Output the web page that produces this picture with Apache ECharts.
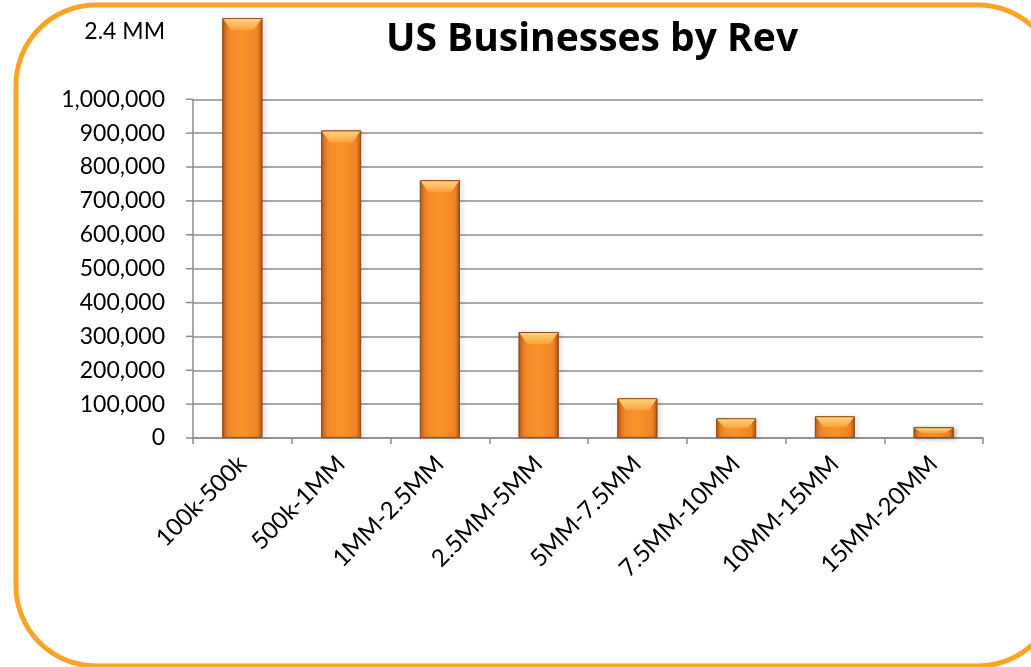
<!DOCTYPE html>
<html>
<head>
<meta charset="utf-8">
<script src="https://cdn.jsdelivr.net/npm/echarts@6/dist/echarts.min.js"></script>
<style>
  html, body { margin: 0; padding: 0; background: #fff; }
  #chart { width: 1031px; height: 667px; }
</style>
</head>
<body>
<div id="chart"></div>
<script>
// revenue bands and number of US businesses in each
var categories = ['100k-500k', '500k-1MM', '1MM-2.5MM', '2.5MM-5MM', '5MM-7.5MM', '7.5MM-10MM', '10MM-15MM', '15MM-20MM'];
var businesses = [2400000, 908000, 761000, 313000, 117000, 58000, 64000, 32000];
var tickValues = [0, 100000, 200000, 300000, 400000, 500000, 600000, 700000, 800000, 900000, 1000000];

var axisTop = 1000000;   // last labelled gridline
var yMax = 1240000;      // room above for the first (off-scale) bar
var gridLeft = 193;
var font = 'Lato, "Open Sans", sans-serif';
var grey = '#8c8c8c';

// the first bar is cut at the top of the plot, like in the original
var shown = businesses.map(function (v) { return Math.min(v, yMax); });

function mmLabel(v) {
    return (v / 1000000).toFixed(1) + ' MM';
}

var splitColors = [];
for (var i = 0; i < 14; i++) splitColors.push(i < tickValues.length ? grey : 'rgba(0,0,0,0)');

var border = {
    type: 'rect', z: 100, silent: true,
    shape: { x: 16, y: 5, width: 1042, height: 661, r: 80 },
    style: { fill: 'none', stroke: '#f9a329', lineWidth: 5 }
};
var title = {
    type: 'text', z: 100,
    style: {
        x: 592, y: 40, text: 'US Businesses by Rev', fill: '#000',
        font: 'bold 39px "Open Sans", sans-serif', textAlign: 'center', textVerticalAlign: 'middle'
    }
};

var bevel = {
    type: 'pictorialBar',
    data: shown,
    symbol: 'path://M0,0 L40,0 L32,10 L8,10 Z',
    symbolSize: [38, 11],
    symbolPosition: 'end',
    symbolOffset: [0, 1],
    z: 3,
    itemStyle: {
        color: new echarts.graphic.LinearGradient(0, 0, 0, 1, [
            { offset: 0, color: '#ffd27c' },
            { offset: 1, color: '#fba13a' }
        ])
    }
};

var myChart = echarts.init(document.getElementById('chart'), null, { renderer: 'canvas' });

myChart.setOption({
    animation: false,
    backgroundColor: '#fff',
    grid: { left: gridLeft, right: 48, top: 18, bottom: 229, containLabel: false },
    xAxis: {
        type: 'category',
        data: categories,
        axisLine: { lineStyle: { color: grey, width: 1.5 } },
        axisTick: { show: true, length: 6, lineStyle: { color: grey, width: 1.5 } },
        axisLabel: { rotate: 45, color: '#000', fontSize: 24, fontFamily: font, margin: 22, interval: 0 }
    },
    yAxis: {
        type: 'value',
        min: 0,
        max: yMax,
        interval: 100000,
        axisLine: { show: false },
        axisTick: { show: false },
        splitLine: { show: true, lineStyle: { color: splitColors, width: 1.5 } },
        axisLabel: {
            color: '#000', fontSize: 23, fontFamily: font, margin: 28,
            showMaxLabel: false,
            formatter: function (v) {
                if (v <= axisTop) return v.toLocaleString('en-US');
                if (v === 1200000) return mmLabel(businesses[0]);
                return '';
            }
        }
    },
    series: [
        {
            type: 'bar',
            data: shown,
            barWidth: 40,
            itemStyle: {
                color: new echarts.graphic.LinearGradient(0, 0, 1, 0, [
                    { offset: 0, color: '#c65f18' },
                    { offset: 0.12, color: '#f08626' },
                    { offset: 0.5, color: '#fa952a' },
                    { offset: 0.88, color: '#ee8325' },
                    { offset: 1, color: '#b25616' }
                ]),
                borderColor: '#9a4f18',
                borderWidth: 1,
                shadowColor: 'rgba(0,0,0,0.3)',
                shadowBlur: 4,
                shadowOffsetX: 2,
                shadowOffsetY: 1
            }
        },
        bevel
    ],
    graphic: [border, title]
});

// y axis line and ticks only run up to the 1,000,000 line
var yBottom = myChart.convertToPixel({ yAxisIndex: 0 }, 0);
var yTop = myChart.convertToPixel({ yAxisIndex: 0 }, axisTop);
var extra = [border, title, {
    type: 'line', silent: true,
    shape: { x1: gridLeft, y1: yTop, x2: gridLeft, y2: yBottom },
    style: { stroke: grey, lineWidth: 1.5 }
}];
tickValues.forEach(function (v) {
    var y = myChart.convertToPixel({ yAxisIndex: 0 }, v);
    extra.push({
        type: 'line', silent: true,
        shape: { x1: gridLeft - 7, y1: y, x2: gridLeft, y2: y },
        style: { stroke: grey, lineWidth: 1.5 }
    });
});

// short bars get a thinner top bevel
bevel.data = shown.map(function (v) {
    var h = yBottom - myChart.convertToPixel({ yAxisIndex: 0 }, v);
    return { value: v, symbolSize: [38, Math.min(11, h * 0.45)] };
});
myChart.setOption({ graphic: extra, series: [{}, bevel] });
</script>
</body>
</html>
